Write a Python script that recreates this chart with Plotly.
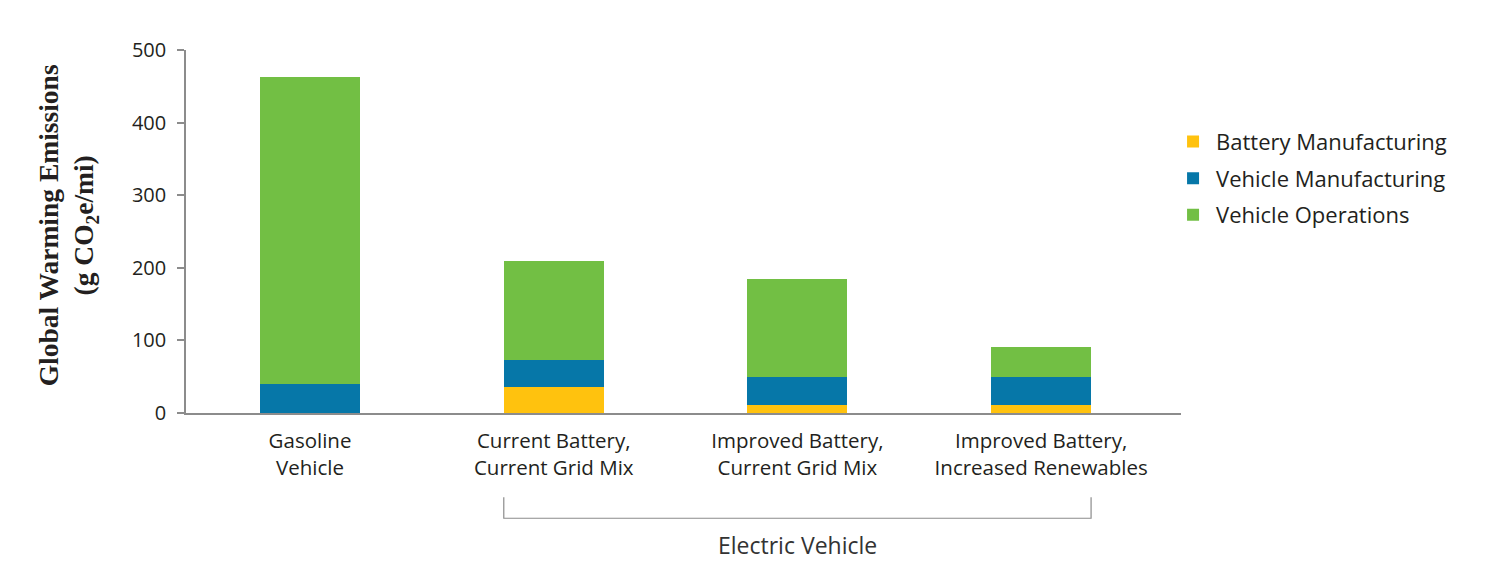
import plotly.graph_objects as go

categories = ["Gasoline<br>Vehicle", "Current Battery,<br>Current Grid Mix",
              "Improved Battery,<br>Current Grid Mix", "Improved Battery,<br>Increased Renewables"]
battery_mfg = [0, 36, 11, 11]
vehicle_mfg = [40, 37, 39, 39]
vehicle_ops = [423, 137, 135, 41]
y_ticks = [0, 100, 200, 300, 400, 500]

series = [
    ("Battery Manufacturing", battery_mfg, "#FFC20E"),
    ("Vehicle Manufacturing", vehicle_mfg, "#0677A8"),
    ("Vehicle Operations", vehicle_ops, "#72BF44"),
]

xpos = list(range(len(categories)))
BAR_W = 0.41

fig = go.Figure()
for name, vals, col in series:
    fig.add_trace(go.Bar(
        x=xpos, y=vals, name=name, width=BAR_W,
        marker=dict(color=col, line=dict(width=0)),
        legendgroup=name,
    ))

FONT = "Open Sans"
TXT = "#231f20"
AX = "#8c8c8c"
PLOT_H = 363.2

fig.update_layout(
    barmode="stack",
    width=1500, height=586,
    paper_bgcolor="white", plot_bgcolor="white",
    margin=dict(l=178, r=327, t=41.5, b=586 - 41.5 - PLOT_H, pad=0),
    font=dict(family=FONT, color=TXT, size=20),
    showlegend=True,
    legend=dict(
        x=0.989, xanchor="left", y=0.805, yanchor="top",
        traceorder="grouped", tracegroupgap=5,
        font=dict(family=FONT, size=22, color=TXT),
        bgcolor="rgba(0,0,0,0)", itemwidth=36,
    ),
    bargap=0,
)

fig.update_xaxes(
    range=[-0.509, 3.574],
    tickmode="array", tickvals=xpos, ticktext=categories,
    showline=True, linecolor=AX, linewidth=1.5,
    ticks="", showgrid=False, zeroline=False,
    tickfont=dict(family=FONT, size=20.5, color=TXT),
    ticklabelstandoff=9,
)
fig.update_yaxes(
    range=[0, 500],
    tickmode="array", tickvals=y_ticks, ticktext=[str(v) for v in y_ticks],
    showline=True, linecolor=AX, linewidth=1.5,
    ticks="outside", ticklen=7, tickcolor=AX, tickwidth=1.5,
    showgrid=False, zeroline=False,
    tickfont=dict(family=FONT, size=20, color=TXT),
    ticklabelstandoff=7,
)

# y-axis title
fig.add_annotation(
    text="<b>Global Warming Emissions</b><br><b>(g CO<sub>2</sub>e/mi)</b>",
    xref="paper", yref="paper", x=-0.1186, y=0.517,
    xanchor="center", yanchor="middle", textangle=-90,
    showarrow=False, align="center",
    font=dict(family="Liberation Serif", size=27.5, color=TXT),
)

# Bracket for electric vehicles
x0 = xpos[1] - BAR_W / 2
x1 = xpos[3] + BAR_W / 2
yb_top = -(497 - 412.7) / PLOT_H
yb_bot = -(518 - 412.7) / PLOT_H
fig.add_shape(type="path", xref="x", yref="paper",
              path=f"M {x0} {yb_top} L {x0} {yb_bot} L {x1} {yb_bot} L {x1} {yb_top}",
              line=dict(color=AX, width=1.2))
fig.add_annotation(text="Electric Vehicle", xref="x", yref="paper",
                   x=(x0 + x1) / 2, y=-(545 - 412.7) / PLOT_H,
                   xanchor="center", yanchor="middle", showarrow=False,
                   font=dict(family=FONT, size=23, color="#333333"))

fig.write_html("out.html")
